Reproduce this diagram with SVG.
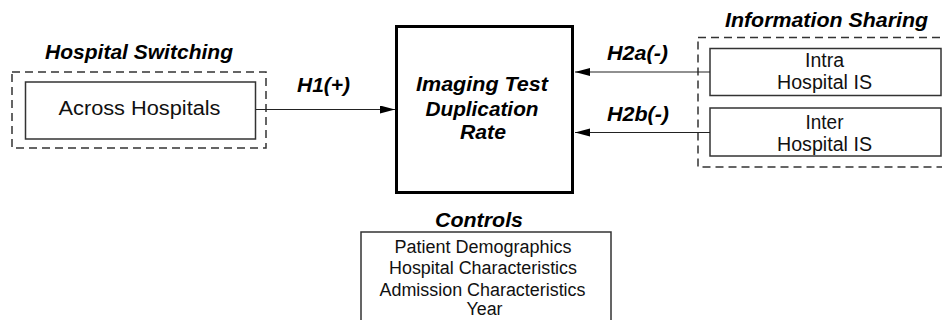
<svg xmlns="http://www.w3.org/2000/svg" width="942" height="320" viewBox="0 0 942 320">
<defs>
<marker id="ah" markerWidth="16" markerHeight="10" refX="15" refY="4" orient="auto" markerUnits="userSpaceOnUse"><path d="M0,0 L15,4 L0,8 Z" fill="#000"/></marker>
<style>
.title{font-family:"Liberation Sans",Arial,sans-serif;font-weight:bold;font-style:italic;font-size:21px;fill:#000;text-anchor:middle}
.lbl{font-family:"Liberation Sans",Arial,sans-serif;font-weight:bold;font-style:italic;font-size:21px;fill:#000}
.txt{font-family:"Liberation Sans",Arial,sans-serif;font-size:20px;fill:#111;text-anchor:middle}
.ctl{font-family:"Liberation Sans",Arial,sans-serif;font-size:18px;fill:#111;text-anchor:middle}
.dash{fill:none;stroke:#333;stroke-width:1.5;stroke-dasharray:8,5}
.box{fill:#fff;stroke:#333;stroke-width:1.5}
.conn{stroke:#222;stroke-width:1.2;fill:none}
</style>
</defs>
<rect width="942" height="320" fill="#fff"/>
<g id="hospital-switching">
<text class="title" x="139" y="59" textLength="188" lengthAdjust="spacingAndGlyphs">Hospital Switching</text>
<rect class="dash" x="12" y="72" width="254" height="76"/>
<rect class="box" x="25.5" y="82" width="230" height="57"/>
<text class="txt" x="139.5" y="115" textLength="162" lengthAdjust="spacingAndGlyphs">Across Hospitals</text>
</g>
<g id="outcome">
<rect x="396.5" y="26.5" width="176" height="166" fill="#fff" stroke="#000" stroke-width="3"/>
<text class="title" x="482" y="91" textLength="132" lengthAdjust="spacingAndGlyphs">Imaging Test</text>
<text class="title" x="482" y="115.5" textLength="113" lengthAdjust="spacingAndGlyphs">Duplication</text>
<text class="title" x="483" y="138.5" textLength="46" lengthAdjust="spacingAndGlyphs">Rate</text>
</g>
<g id="information-sharing">
<text class="title" x="826.5" y="27" textLength="203" lengthAdjust="spacingAndGlyphs">Information Sharing</text>
<rect class="dash" x="698" y="37.5" width="260" height="129.5"/>
<rect class="box" x="710" y="48.5" width="231" height="47"/>
<text class="txt" x="824.5" y="66.5" textLength="39" lengthAdjust="spacingAndGlyphs">Intra</text>
<text class="txt" x="824.5" y="88.5" textLength="95" lengthAdjust="spacingAndGlyphs">Hospital IS</text>
<rect class="box" x="710" y="108" width="231" height="48"/>
<text class="txt" x="824.5" y="129" textLength="38" lengthAdjust="spacingAndGlyphs">Inter</text>
<text class="txt" x="824.5" y="151" textLength="95" lengthAdjust="spacingAndGlyphs">Hospital IS</text>
</g>
<g id="controls">
<text class="title" x="479" y="227" textLength="88" lengthAdjust="spacingAndGlyphs">Controls</text>
<rect class="box" x="361" y="232" width="250" height="100"/>
<text class="ctl" x="483" y="252.5" textLength="177" lengthAdjust="spacingAndGlyphs">Patient Demographics</text>
<text class="ctl" x="483" y="274" textLength="188" lengthAdjust="spacingAndGlyphs">Hospital Characteristics</text>
<text class="ctl" x="482.5" y="295.5" textLength="206" lengthAdjust="spacingAndGlyphs">Admission Characteristics</text>
<text class="ctl" x="484.5" y="315" textLength="36" lengthAdjust="spacingAndGlyphs">Year</text>
</g>
<g id="connectors">
<line class="conn" x1="256" y1="109.5" x2="395" y2="109.5" marker-end="url(#ah)"/>
<text class="lbl" x="297" y="92" textLength="53" lengthAdjust="spacingAndGlyphs">H1(+)</text>
<line class="conn" x1="710" y1="72" x2="575" y2="72" marker-end="url(#ah)"/>
<text class="lbl" x="607" y="60" textLength="61" lengthAdjust="spacingAndGlyphs">H2a(-)</text>
<line class="conn" x1="710" y1="132.5" x2="575" y2="132.5" marker-end="url(#ah)"/>
<text class="lbl" x="607" y="121" textLength="62" lengthAdjust="spacingAndGlyphs">H2b(-)</text>
</g>
</svg>
